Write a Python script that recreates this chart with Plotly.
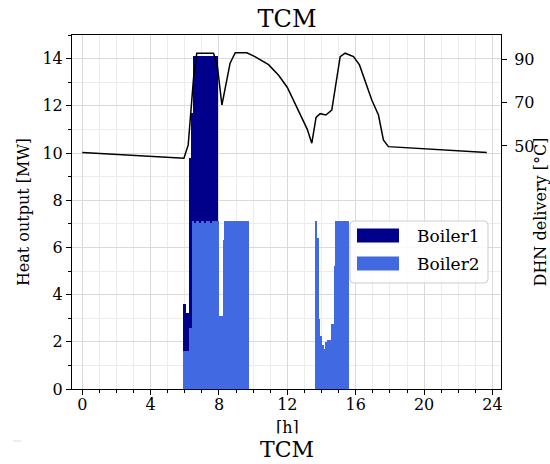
import plotly.graph_objects as go

# ---- dispatch data: 5-minute slots (slot start, hours) ----
SLOT = 1 / 12

slot_start = [
    5.917, 6.0, 6.083, 6.167, 6.25, 6.333, 6.417, 6.5, 6.583, 6.667,
    6.75, 6.833, 6.917, 7.0, 7.083, 7.167, 7.25, 7.333, 7.417, 7.5,
    7.583, 7.667, 7.75, 7.833, 7.917, 8.0, 8.083, 8.167, 8.25, 8.333,
    8.417, 8.5, 8.583, 8.667, 8.75, 8.833, 8.917, 9.0, 9.083, 9.167,
    9.25, 9.333, 9.417, 9.5, 9.583, 9.667,
    13.667, 13.75, 13.833, 13.917, 14.0, 14.083, 14.167, 14.25, 14.333, 14.417,
    14.5, 14.583, 14.667, 14.75, 14.833, 14.917, 15.0, 15.083, 15.167, 15.25,
    15.333, 15.417, 15.5,
]

# Boiler2 heat output [MW]
boiler2 = [
    1.6, 1.6, 1.6, 1.6, 2.6, 2.6, 7.1, 7.1, 7.05, 7.1,
    7.1, 7.05, 7.1, 7.1, 7.1, 7.05, 7.1, 7.1, 7.1, 7.05,
    7.1, 7.1, 7.1, 7.1, 7.1, 3.1, 3.1, 3.1, 6.3, 7.1,
    7.1, 7.1, 7.1, 7.1, 7.1, 7.1, 7.1, 7.1, 7.1, 7.1,
    7.1, 7.1, 7.1, 7.1, 7.1, 7.1,
    7.1, 6.4, 2.95, 2.25, 1.87, 1.87, 1.7, 2.0, 2.07, 2.07,
    2.07, 2.77, 2.77, 5.2, 7.1, 7.1, 7.1, 7.1, 7.1, 7.1,
    7.1, 7.1, 7.1,
]

# Boiler1 heat output [MW], stacked on top of Boiler2
boiler1 = [
    2.0, 2.0, 1.6, 1.6, 7.2, 7.2, 4.6, 7.0, 7.05, 7.0,
    7.0, 7.05, 7.0, 7.0, 7.0, 7.05, 7.0, 7.0, 7.0, 7.05,
    7.0, 7.0, 7.0, 7.0, 0.0, 0.0, 0.0, 0.0, 0.0, 0.0,
    0.0, 0.0, 0.0, 0.0, 0.0, 0.0, 0.0, 0.0, 0.0, 0.0,
    0.0, 0.0, 0.0, 0.0, 0.0, 0.0,
    0.0, 0.0, 0.0, 0.0, 0.0, 0.0, 0.0, 0.0, 0.0, 0.0,
    0.0, 0.0, 0.0, 0.0, 0.0, 0.0, 0.0, 0.0, 0.0, 0.0,
    0.0, 0.0, 0.0,
]

# DHN delivery temperature [degC]
temp_hours = [
    0.0, 5.95, 6.2, 6.37, 6.51, 6.7, 7.68, 7.91, 8.17, 8.65,
    8.95, 9.63, 10.1, 10.9, 11.5, 12.0, 12.36, 12.75, 13.16, 13.43,
    13.68, 13.92, 14.25, 14.6, 14.8, 15.09, 15.38, 15.87, 16.22, 16.6,
    16.94, 17.33, 17.62, 17.91, 23.67,
]
temp_values = [
    47.0, 44.4, 50.5, 65.3, 81.2, 92.8, 92.8, 86.6, 68.9, 88.2,
    93.0, 93.0, 91.2, 87.5, 82.5, 77.0, 71.2, 64.7, 57.8, 51.3,
    63.2, 64.9, 64.3, 66.6, 75.9, 91.2, 92.8, 91.2, 87.4, 79.0,
    71.2, 64.3, 52.8, 49.7, 47.0,
]

x_ticks = [0, 4, 8, 12, 16, 20, 24]
left_ticks = [0, 2, 4, 6, 8, 10, 12, 14]
right_ticks = [50, 70, 90]

series_names = ["Boiler1", "Boiler2"]
series_colors = ["#00008B", "#4169E1"]

FONT = "DejaVu Serif"
W, H = 550, 464
ML, MR, MT, MB = 72, 49, 35, 75
PW, PH = W - ML - MR, H - MT - MB


def px_x(px):
    return (px - ML) / PW


def px_y(py):
    return (H - MB - py) / PH


fig = go.Figure()

fig.add_trace(go.Bar(
    x=slot_start, y=boiler2, width=SLOT, offset=0,
    name=series_names[1], marker=dict(color=series_colors[1], line=dict(width=0)),
    showlegend=False,
))
fig.add_trace(go.Bar(
    x=slot_start, y=boiler1, width=SLOT, offset=0,
    name=series_names[0], marker=dict(color=series_colors[0], line=dict(width=0)),
    showlegend=False,
))
fig.add_trace(go.Scatter(
    x=temp_hours, y=temp_values, yaxis="y2", mode="lines",
    line=dict(color="black", width=1.5), showlegend=False,
))

grid_major = "#dadada"
grid_minor = "#ececec"

fig.update_layout(
    width=W, height=H,
    margin=dict(l=ML, r=MR, t=MT, b=MB, autoexpand=False),
    paper_bgcolor="white", plot_bgcolor="white",
    barmode="stack", bargap=0,
    font=dict(family=FONT, size=16, color="black"),
    title=dict(text="TCM", x=287 / W, xanchor="center", y=1 - 19 / H, yanchor="middle",
               font=dict(size=24, family=FONT)),
    xaxis=dict(
        range=[-0.6, 24.5], tickvals=x_ticks, ticks="outside", ticklen=5,
        tickcolor="black", showline=True, linecolor="black", linewidth=1, mirror=True,
        showgrid=True, gridcolor=grid_major, gridwidth=1, zeroline=False, automargin=False,
        minor=dict(dtick=1, tick0=0, ticks="outside", ticklen=3, tickcolor="black",
                   showgrid=True, gridcolor=grid_minor, gridwidth=1),
        tickfont=dict(size=16), ticklabelstandoff=-4,
    ),
    yaxis=dict(
        range=[0, 15], tickvals=left_ticks, ticks="outside", ticklen=5,
        tickcolor="black", showline=True, linecolor="black", linewidth=1, mirror=True,
        showgrid=True, gridcolor=grid_major, gridwidth=1, zeroline=False, automargin=False,
        minor=dict(dtick=1, tick0=0, ticks="outside", ticklen=3, tickcolor="black",
                   showgrid=True, gridcolor=grid_minor, gridwidth=1),
        title=dict(text="Heat output [MW]", standoff=8, font=dict(size=16)),
        tickfont=dict(size=16),
    ),
    yaxis2=dict(
        overlaying="y", side="right", range=[-62.1, 101.2], tickvals=right_ticks,
        ticks="outside", ticklen=5, tickcolor="black", showline=True, linecolor="black",
        linewidth=1, showgrid=False, zeroline=False, automargin=False,
        title=dict(text="DHN delivery [°C]", standoff=3, font=dict(size=16)),
        tickfont=dict(size=16), ticklabelstandoff=4,
    ),
)

# x-axis label, partly hidden by the next panel's white strip, then the next panel title
annotations = [
    dict(text="[h]", x=px_x(287), y=px_y(427), xref="paper", yref="paper",
         showarrow=False, font=dict(size=16, family=FONT), xanchor="center", yanchor="middle"),
    dict(text="", x=px_x(287), y=px_y(440), xref="paper", yref="paper",
         showarrow=False, width=80, height=12, bgcolor="white", borderpad=0,
         xanchor="center", yanchor="middle"),
    dict(text="TCM", x=px_x(287), y=px_y(463.5), xref="paper", yref="paper",
         showarrow=False, font=dict(size=22, family=FONT), xanchor="center", yanchor="bottom"),
]

# legend box
lx0, lx1, ly0, ly1, r = 350, 488, 221, 283, 4
rx, ry = r / PW, r / PH
X0, X1, Y0, Y1 = px_x(lx0), px_x(lx1), px_y(ly0), px_y(ly1)
path = (
    f"M {X0 + rx},{Y0} L {X1 - rx},{Y0} Q {X1},{Y0} {X1},{Y0 - ry} "
    f"L {X1},{Y1 + ry} Q {X1},{Y1} {X1 - rx},{Y1} "
    f"L {X0 + rx},{Y1} Q {X0},{Y1} {X0},{Y1 + ry} "
    f"L {X0},{Y0 - ry} Q {X0},{Y0} {X0 + rx},{Y0} Z"
)
shapes = [
    dict(type="path", path=path, xref="paper", yref="paper",
         fillcolor="rgba(255,255,255,0.85)", line=dict(color="#cccccc", width=1), layer="above"),
    dict(type="line", xref="paper", yref="paper", x0=px_x(13), x1=px_x(21),
         y0=px_y(441), y1=px_y(441), line=dict(color="#dddddd", width=1)),
]
for i, (name, color) in enumerate(zip(series_names, series_colors)):
    cy = 235.5 + i * 28
    shapes.append(dict(type="rect", xref="paper", yref="paper",
                       x0=px_x(357), x1=px_x(399), y0=px_y(cy - 7), y1=px_y(cy + 7),
                       fillcolor=color, line=dict(width=0), layer="above"))
    annotations.append(dict(text=name, x=px_x(415), y=px_y(cy), xref="paper", yref="paper",
                            showarrow=False, xanchor="left", yanchor="middle",
                            font=dict(size=17, family=FONT)))

fig.update_layout(shapes=shapes, annotations=annotations)

fig.write_html("out.html")
